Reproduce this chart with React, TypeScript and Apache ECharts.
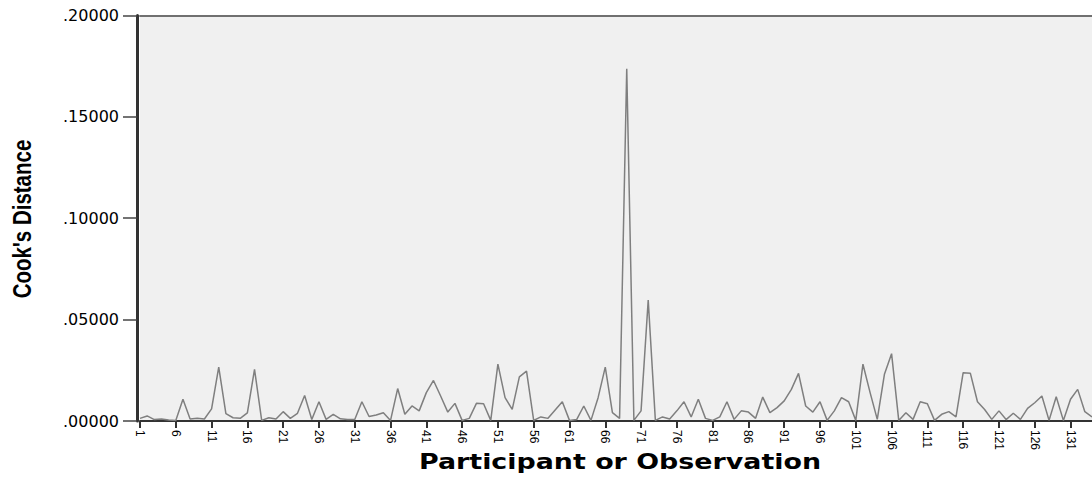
import React, { useEffect, useRef } from "react";
import * as echarts from "echarts";

const observations: string[] = Array.from({ length: 134 }, (_, i) => String(i + 1));

const cooksDistance: number[] = [
  0.0013, 0.0025, 0.0007, 0.0010, 0.0005, 0.0003, 0.0107, 0.0010, 0.0013, 0.0010,
  0.0060, 0.0266, 0.0036, 0.0016, 0.0013, 0.0040, 0.0255, 0.0003, 0.0016, 0.0010,
  0.0046, 0.0013, 0.0038, 0.0126, 0.0007, 0.0095, 0.0008, 0.0033, 0.0011, 0.0007,
  0.0007, 0.0095, 0.0022, 0.0030, 0.0041, 0.0003, 0.0160, 0.0033, 0.0074, 0.0050,
  0.0140, 0.0200, 0.0123, 0.0044, 0.0087, 0.0003, 0.0013, 0.0087, 0.0085, 0.0003,
  0.0280, 0.0115, 0.0057, 0.0218, 0.0246, 0.0003, 0.0020, 0.0013, 0.0054, 0.0095,
  0.0003, 0.0007, 0.0074, 0.0003, 0.0115, 0.0266, 0.0041, 0.0013, 0.1737, 0.0003,
  0.0050, 0.0596, 0.0003, 0.0020, 0.0010, 0.0050, 0.0095, 0.0020, 0.0107, 0.0013,
  0.0003, 0.0020, 0.0095, 0.0008, 0.0050, 0.0044, 0.0013, 0.0118, 0.0041, 0.0066,
  0.0099, 0.0156, 0.0235, 0.0074, 0.0044, 0.0095, 0.0003, 0.0050, 0.0115, 0.0095,
  0.0003, 0.0280, 0.0140, 0.0008, 0.0230, 0.0332, 0.0003, 0.0041, 0.0008, 0.0095,
  0.0085, 0.0003, 0.0033, 0.0046, 0.0020, 0.0238, 0.0236, 0.0095, 0.0057, 0.0008,
  0.0050, 0.0007, 0.0038, 0.0008, 0.0062, 0.0090, 0.0123, 0.0003, 0.0120, 0.0003,
  0.0107, 0.0156, 0.0046, 0.0020,
];

const yTitle = "Cook's Distance";
const xTitle = "Participant or Observation";

export default function App() {
  const ref = useRef<HTMLDivElement>(null);

  useEffect(() => {
    if (!ref.current) return;
    const chart = echarts.init(ref.current, null, { renderer: "svg" });
    chart.setOption({
      animation: false,
      backgroundColor: "#ffffff",
      grid: {
        left: 140,
        width: 957.6,
        top: 15.4,
        bottom: 56,
        show: true,
        backgroundColor: "#f0f0f0",
        borderWidth: 0,
      },
      xAxis: [
        {
          type: "category",
          data: observations,
          boundaryGap: false,
          axisLine: { show: true, lineStyle: { color: "#333333", width: 2 } },
          axisTick: {
            show: true,
            interval: 4,
            length: 7,
            lineStyle: { color: "#333333", width: 2 },
          },
          axisLabel: {
            interval: 4,
            rotate: -90,
            margin: 9,
            color: "#000000",
            fontFamily: "'Liberation Sans', Arial, sans-serif",
            fontSize: 12,
          },
          splitLine: { show: false },
        },
        {
          type: "category",
          data: observations,
          boundaryGap: false,
          position: "top",
          axisLine: { show: true, lineStyle: { color: "#707070", width: 2 } },
          axisTick: { show: false },
          axisLabel: { show: false },
        },
      ],
      yAxis: {
        type: "value",
        min: 0,
        max: 0.2,
        interval: 0.05,
        offset: 3,
        axisLine: { show: true, lineStyle: { color: "#333333", width: 3 } },
        axisTick: { show: true, length: 14, lineStyle: { color: "#444444", width: 1.5 } },
        axisLabel: {
          margin: 18,
          color: "#000000",
          fontFamily: "'DejaVu Sans', sans-serif",
          fontSize: 16,
          formatter: (v: number) => "." + v.toFixed(5).split(".")[1],
        },
        splitLine: { show: false },
      },
      graphic: [
        {
          type: "text",
          x: 21,
          y: 219,
          rotation: Math.PI / 2,
          scaleY: 1.3,
          style: {
            text: yTitle,
            fontFamily: "'Liberation Sans', Arial, sans-serif",
            fontWeight: "bold",
            fontSize: 20.5,
            fill: "#000000",
            align: "center",
            verticalAlign: "middle",
          },
        },
        {
          type: "text",
          x: 620,
          y: 462,
          scaleX: 1.28,
          style: {
            text: xTitle,
            fontFamily: "'DejaVu Sans', sans-serif",
            fontWeight: "bold",
            fontSize: 21,
            fill: "#000000",
            align: "center",
            verticalAlign: "middle",
          },
        },
      ],
      series: [
        {
          type: "line",
          data: cooksDistance,
          xAxisIndex: 0,
          showSymbol: false,
          symbol: "none",
          lineStyle: { color: "#7f7f7f", width: 1.5 },
          clip: true,
        },
      ],
    });
    return () => chart.dispose();
  }, []);

  return (
    <div
      ref={ref}
      style={{ position: "absolute", left: 0, top: 0, width: 1092, height: 477 }}
    />
  );
}
